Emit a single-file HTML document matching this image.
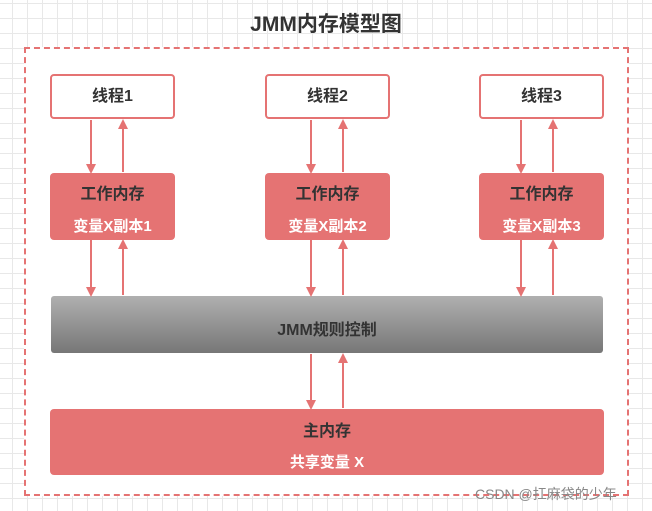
<!DOCTYPE html>
<html><head><meta charset="utf-8"><style>
body{margin:0;width:652px;height:511px;overflow:hidden;background:#fff;
background-image:linear-gradient(#e8e8e8 1px,transparent 1px),linear-gradient(90deg,#e8e8e8 1px,transparent 1px);
background-size:15px 15px;background-position:12px 3px;font-family:"Liberation Sans","Noto Sans CJK SC",sans-serif;position:relative}
.a{position:absolute}
.t{position:absolute;font-weight:bold;color:#333;text-align:center;white-space:nowrap}
.th{position:absolute;background:#fff;border:2px solid #e57373;border-radius:4px;box-sizing:border-box;height:45px;top:74px;width:125px;font-weight:bold;font-size:16px;color:#333;text-align:center;line-height:41px}
.wm{position:absolute;background:#e57373;border-radius:4px;top:173px;height:67px;width:125px;text-align:center;font-weight:bold}
.wm .a1{position:absolute;top:7px;width:100%;font-size:16px;color:#333}
.wm .a2{position:absolute;top:42px;width:100%;font-size:15px;color:#fff}
</style></head><body>
<div class="a" style="left:24px;top:47px;width:605px;height:449px;background:#fff;border:2px dashed #e57373;box-sizing:border-box"></div>
<div class="t" style="left:0;width:652px;top:8px;font-size:21px">JMM内存模型图</div>
<div class="th" style="left:50px">线程1</div>
<div class="th" style="left:265px">线程2</div>
<div class="th" style="left:479px">线程3</div>
<div class="wm" style="left:50px"><div class="a1">工作内存</div><div class="a2">变量X副本1</div></div>
<div class="wm" style="left:265px"><div class="a1">工作内存</div><div class="a2">变量X副本2</div></div>
<div class="wm" style="left:479px"><div class="a1">工作内存</div><div class="a2">变量X副本3</div></div>
<div class="a" style="left:51px;top:296px;width:552px;height:57px;border-radius:3px;background:linear-gradient(#b0b0b0,#777)"></div>
<div class="t" style="left:51px;width:552px;top:316px;font-size:16px">JMM规则控制</div>
<div class="a" style="left:50px;top:409px;width:554px;height:66px;border-radius:4px;background:#e57373"></div>
<div class="t" style="left:50px;width:554px;top:417px;font-size:16px">主内存</div>
<div class="t" style="left:50px;width:554px;top:451px;font-size:15px;color:#fff">共享变量 X</div>
<svg class="a" style="left:0;top:0" width="652" height="511">
<defs><marker id="m" markerWidth="10" markerHeight="10" refX="8" refY="5" orient="auto" markerUnits="userSpaceOnUse"><path d="M0,0L10,5L0,10z" fill="#e57373"/></marker></defs>
<g stroke="#e57373" stroke-width="2" marker-end="url(#m)">
<line x1="91" y1="120" x2="91" y2="172"/><line x1="123" y1="172" x2="123" y2="121"/>
<line x1="311" y1="120" x2="311" y2="172"/><line x1="343" y1="172" x2="343" y2="121"/>
<line x1="521" y1="120" x2="521" y2="172"/><line x1="553" y1="172" x2="553" y2="121"/>
<line x1="91" y1="240" x2="91" y2="295"/><line x1="123" y1="295" x2="123" y2="241"/>
<line x1="311" y1="240" x2="311" y2="295"/><line x1="343" y1="295" x2="343" y2="241"/>
<line x1="521" y1="240" x2="521" y2="295"/><line x1="553" y1="295" x2="553" y2="241"/>
<line x1="311" y1="354" x2="311" y2="408"/><line x1="343" y1="408" x2="343" y2="355"/>
</g></svg>
<div class="a" style="left:475px;top:484px;font-size:14px;color:#888;white-space:nowrap">CSDN @扛麻袋的少年</div>
</body></html>
